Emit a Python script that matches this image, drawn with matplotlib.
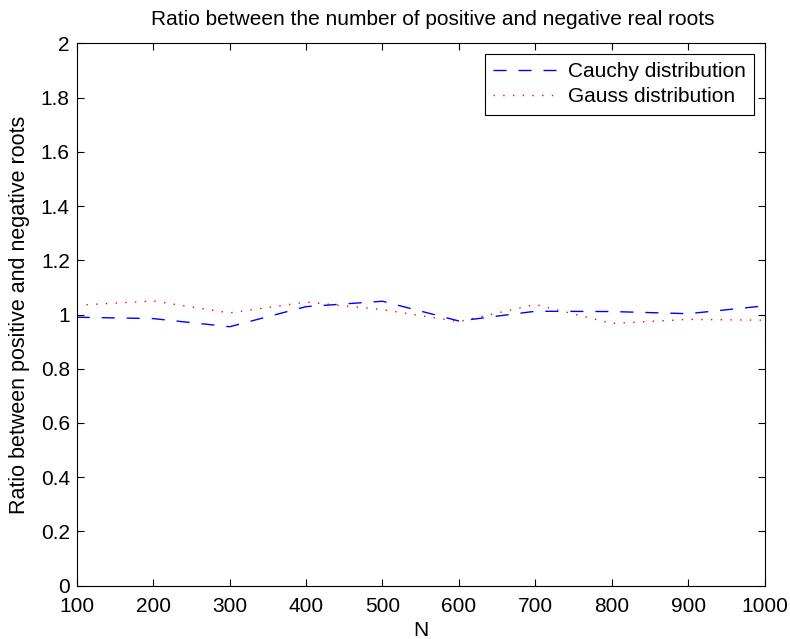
import numpy as np
import matplotlib
matplotlib.use("Agg")
import matplotlib.pyplot as plt

plt.rcParams["font.family"] = ["Liberation Sans", "DejaVu Sans"]

# Data
n_values = [100, 200, 300, 400, 500, 600, 700, 800, 900, 1000]
cauchy_ratio = [0.990, 0.985, 0.955, 1.029, 1.049, 0.976, 1.012, 1.011, 1.003, 1.032]
gauss_ratio = [1.034, 1.050, 1.006, 1.046, 1.018, 0.974, 1.037, 0.967, 0.982, 0.979]
x_ticks = [100, 200, 300, 400, 500, 600, 700, 800, 900, 1000]
y_ticks = [0, 0.2, 0.4, 0.6, 0.8, 1, 1.2, 1.4, 1.6, 1.8, 2]
y_tick_labels = ["0", "0.2", "0.4", "0.6", "0.8", "1", "1.2", "1.4", "1.6", "1.8", "2"]

fig = plt.figure(figsize=(7.9, 6.39), dpi=100)
ax = fig.add_axes([0.0971, 0.0834, 0.8709, 0.8488])

ax.plot(n_values, cauchy_ratio, color="blue", lw=1.0, dashes=(9.4, 8.6),
        label="Cauchy distribution")
ax.plot(n_values, gauss_ratio, color="red", lw=1.0, dashes=(1, 6),
        label="Gauss distribution")

ax.set_xlim(100, 1000)
ax.set_ylim(0, 2)
ax.set_xticks(x_ticks)
ax.set_xticklabels([str(v) for v in x_ticks])
ax.set_yticks(y_ticks)
ax.set_yticklabels(y_tick_labels)
ax.tick_params(direction="in", length=5, width=0.8, top=True, right=True,
               labelsize=15, pad=5)
ax.tick_params(axis="x", pad=8)
for sp in ax.spines.values():
    sp.set_linewidth(0.8)

ax.set_xlabel("N", fontsize=15, labelpad=4)
ax.set_ylabel("Ratio between positive and negative roots", fontsize=15.5, labelpad=8)
ax.set_title("Ratio between the number of positive and negative real roots",
             fontsize=15, pad=13, x=0.517)

leg = ax.legend(loc="upper right", fontsize=15, frameon=True, fancybox=False,
                edgecolor="black", framealpha=1, borderaxespad=0.5,
                handlelength=3.2, handletextpad=0.4, borderpad=0.4,
                labelspacing=0.3)
leg.get_frame().set_linewidth(0.8)

fig.savefig("out.png", dpi=100)
